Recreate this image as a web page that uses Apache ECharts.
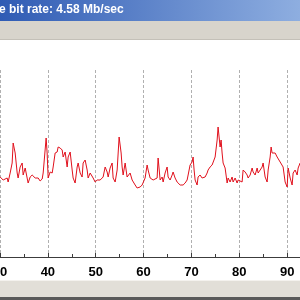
<!DOCTYPE html>
<html>
<head>
<meta charset="utf-8">
<script src="https://cdn.jsdelivr.net/npm/echarts@6/dist/echarts.min.js"></script>
<style>
  html, body { margin: 0; padding: 0; background: #fff; }
  #chart { width: 300px; height: 300px; }
</style>
</head>
<body>
<div id="chart"></div>
<script>
  // time axis (s) and bit rate readings (Mb/sec)
  var times = [
    30.03, 30.66, 31.50, 31.70, 32.12, 32.54, 32.75, 33.17, 33.59, 33.79,
    34.21, 34.63, 34.84, 35.26, 35.67, 35.88, 36.30, 36.72, 36.93, 37.35,
    37.76, 37.97, 38.39, 38.81, 39.02, 39.64, 39.85, 40.06, 40.48, 40.90,
    41.11, 41.52, 41.94, 42.15, 42.57, 42.99, 43.20, 43.61, 44.03, 44.24,
    44.66, 45.08, 45.28, 45.70, 46.12, 46.33, 46.75, 47.16, 47.37, 47.79,
    48.21, 48.42, 48.84, 49.46, 49.88, 50.30, 50.93, 51.55, 51.97, 52.39,
    52.60, 53.01, 53.43, 53.64, 54.06, 54.48, 54.89, 55.31, 55.52, 55.73,
    56.15, 56.56, 56.77, 57.19, 57.61, 57.82, 58.24, 58.65, 58.86, 59.28,
    59.70, 59.91, 60.32, 60.74, 60.95, 61.37, 62.00, 62.83, 63.04, 63.46,
    63.88, 64.09, 64.50, 64.92, 65.13, 65.55, 65.97, 66.17, 66.59, 67.01,
    67.22, 67.64, 68.05, 68.26, 68.68, 69.10, 69.31, 69.72, 70.14, 70.35,
    70.56, 70.77, 71.19, 71.39, 71.81, 72.23, 72.44, 72.86, 73.28, 73.48,
    73.90, 74.32, 74.53, 74.95, 75.37, 75.57, 75.78, 75.99, 76.20, 76.41,
    76.62, 77.04, 77.46, 77.67, 78.08, 78.50, 78.71, 79.13, 79.55, 79.76,
    80.17, 80.59, 80.80, 81.22, 81.64, 81.85, 82.27, 82.68, 82.89, 83.31,
    83.73, 83.94, 84.36, 84.77, 84.98, 85.40, 85.82, 86.03, 86.45, 86.65,
    86.86, 87.07, 87.49, 87.91, 88.12, 88.54, 88.95, 89.16, 89.58, 90.00,
    90.21, 90.63, 91.04, 91.25, 91.67, 92.09, 92.30, 92.71, 93.00
  ];
  var rates = [
    4.00, 3.85, 3.95, 3.75, 4.20, 4.70, 5.70, 5.20, 4.20, 3.95,
    4.50, 4.70, 4.10, 4.45, 3.95, 3.70, 4.00, 4.10, 4.20, 3.95,
    3.85, 3.95, 3.80, 3.90, 4.20, 5.95, 5.20, 3.95, 4.25, 4.20,
    4.50, 5.20, 5.25, 5.50, 5.45, 5.35, 5.00, 5.25, 4.50, 5.00,
    5.25, 4.35, 3.95, 3.70, 4.50, 4.70, 4.20, 4.00, 4.70, 4.85,
    4.35, 3.95, 4.20, 3.95, 3.75, 3.85, 3.85, 4.00, 4.50, 4.25,
    4.00, 4.45, 4.70, 3.95, 3.75, 4.35, 6.00, 5.20, 4.50, 4.10,
    4.70, 4.00, 3.95, 4.20, 3.85, 3.75, 3.60, 3.45, 3.35, 3.50,
    3.60, 3.70, 3.95, 4.60, 4.35, 3.95, 3.85, 3.95, 4.95, 3.85,
    4.00, 3.75, 4.20, 4.50, 4.00, 3.85, 4.10, 4.25, 3.95, 3.75,
    3.70, 3.60, 3.50, 3.60, 3.70, 3.85, 4.10, 4.60, 4.75, 5.00,
    4.35, 3.85, 3.60, 4.00, 4.10, 3.95, 3.85, 4.00, 4.20, 4.35,
    4.50, 4.60, 4.50, 5.00, 5.85, 6.50, 6.00, 5.50, 5.85, 5.20,
    4.70, 4.45, 3.70, 3.95, 3.75, 4.00, 3.75, 3.95, 3.70, 3.85,
    3.95, 3.75, 4.35, 4.25, 4.10, 3.95, 4.10, 4.45, 4.25, 4.10,
    4.45, 4.20, 4.35, 4.50, 4.70, 4.00, 3.75, 4.35, 5.00, 5.50,
    5.20, 5.10, 5.20, 5.00, 4.95, 4.75, 4.85, 4.50, 3.75, 3.50,
    4.45, 3.95, 3.60, 4.20, 4.35, 4.10, 4.45, 4.70, 4.60
  ];
  var titleText = 'e bit rate: 4.58 Mb/sec';

  var points = times.map(function (t, i) { return [t, rates[i]]; });

  var option = {
    animation: false,
    backgroundColor: '#ffffff',
    grid: {
      left: 0,
      right: -35,
      top: 70,
      bottom: 43,
      outerBoundsMode: 'none',
      containLabel: false
    },
    xAxis: {
      type: 'value',
      min: 30,
      max: 100,
      interval: 10,
      axisLine: {
        show: true,
        lineStyle: { color: '#3c3c3c', width: 1 }
      },
      axisTick: {
        show: true,
        inside: true,
        length: 4,
        lineStyle: { color: '#3c3c3c' }
      },
      minorTick: {
        show: true,
        splitNumber: 2,
        length: 3,
        lineStyle: { color: '#3c3c3c' }
      },
      axisLabel: {
        color: '#000',
        fontFamily: 'Liberation Sans',
        fontWeight: 'bold',
        fontSize: 13,
        margin: 9,
        hideOverlap: false
      },
      splitLine: {
        show: true,
        lineStyle: { color: '#b0b0b0', type: [3, 2], width: 1 }
      }
    },
    yAxis: {
      type: 'value',
      min: 0,
      max: 9.35,
      show: false,
      splitLine: { show: false }
    },
    graphic: [
      {
        type: 'rect',
        shape: { x: 0, y: 0, width: 300, height: 21 },
        style: {
          fill: new echarts.graphic.LinearGradient(0, 0, 1, 0, [
            { offset: 0, color: '#2f5bb4' },
            { offset: 1, color: '#8eaee0' }
          ])
        }
      },
      {
        type: 'text',
        x: -1,
        y: 4,
        style: {
          text: titleText,
          fill: '#ffffff',
          font: 'bold 12px "Liberation Sans"'
        }
      },
      {
        type: 'rect',
        shape: { x: 0, y: 21, width: 300, height: 19 },
        style: { fill: '#d8d4cc' }
      },
      {
        type: 'rect',
        shape: { x: 0, y: 39, width: 300, height: 1 },
        style: { fill: '#c4c0b8' }
      },
      {
        type: 'rect',
        shape: { x: 0, y: 280, width: 300, height: 17 },
        style: { fill: '#e2dfd8' }
      },
      {
        type: 'rect',
        shape: { x: 0, y: 280, width: 300, height: 1 },
        style: { fill: '#f4f2ee' }
      },
      {
        type: 'rect',
        shape: { x: 0, y: 297, width: 300, height: 3 },
        style: { fill: '#5a5a5a' }
      }
    ],
    series: [
      {
        type: 'line',
        data: points,
        symbol: 'none',
        smooth: false,
        lineStyle: { color: '#e0101c', width: 1 }
      }
    ]
  };

  var chart = echarts.init(document.getElementById('chart'));
  chart.setOption(option);
</script>
</body>
</html>
